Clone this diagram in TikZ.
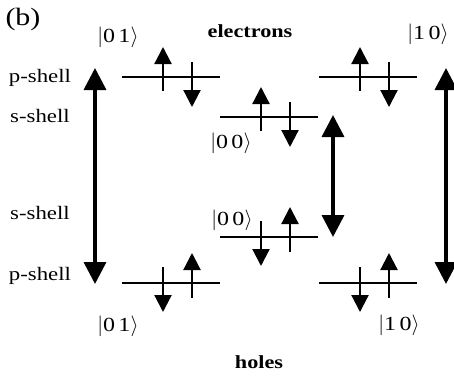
\documentclass[tikz,border=0pt]{standalone}
\usepackage{fontspec}
\setmainfont{Liberation Serif}[FakeStretch=1.2]
\usetikzlibrary{arrows.meta,calc}
\newcommand\myket[1]{$\Big|$#1$\Big\rangle$}
\tikzset{
  lvl/.style={line width=2.2pt},
  spin/.style={line width=2.2pt,-{Triangle[width=17pt,length=17pt]}},
  trans/.style={line width=3.5pt,{Triangle[width=22pt,length=22pt]}-{Triangle[width=22pt,length=22pt]}},
  lbl/.style={inner sep=0pt,font=\fontsize{19}{22}\selectfont},
  ketl/.style={inner sep=0pt,font=\fontsize{20}{23}\selectfont},
  bold/.style={inner sep=0pt,font=\fontsize{18.5}{22}\selectfont\bfseries},
}
\begin{document}
\begin{tikzpicture}[x=1pt,y=-1pt]
\useasboundingbox (0,0) rectangle (454,375);
% level end points
\coordinate (ETLa) at (122,77);  \coordinate (ETLb) at (220,77);
\coordinate (ETMa) at (220,117); \coordinate (ETMb) at (318,117);
\coordinate (ETRa) at (319,77);  \coordinate (ETRb) at (417,77);
\coordinate (HBMa) at (220,237); \coordinate (HBMb) at (318,237);
\coordinate (HBLa) at (122,283); \coordinate (HBLb) at (220,283);
\coordinate (HBRa) at (319,283); \coordinate (HBRb) at (417,283);
\draw[lvl] (ETLa) -- (ETLb);
\draw[lvl] (ETMa) -- (ETMb);
\draw[lvl] (ETRa) -- (ETRb);
\draw[lvl] (HBMa) -- (HBMb);
\draw[lvl] (HBLa) -- (HBLb);
\draw[lvl] (HBRa) -- (HBRb);
% electron spins (up left, down right)
\foreach \a in {ETLa,ETMa,ETRa}{
  \draw[spin] ($(\a)+(41,14)$) -- ++(0,-44);
  \draw[spin] ($(\a)+(70,-15)$) -- ++(0,45);
}
% hole spins (down left, up right)
\foreach \a in {HBLa,HBMa,HBRa}{
  \draw[spin] ($(\a)+(41,-16)$) -- ++(0,45);
  \draw[spin] ($(\a)+(70,15)$) -- ++(0,-45);
}
% transition arrows
\coordinate (TLa) at (95,68);   \coordinate (TLb) at (95,284);
\coordinate (TMa) at (333,115); \coordinate (TMb) at (333,237);
\coordinate (TRa) at (446,68);  \coordinate (TRb) at (446,284);
\draw[trans] (TLa) -- (TLb);
\draw[trans] (TMa) -- (TMb);
\draw[trans] (TRa) -- (TRb);
% labels
\node[inner sep=0pt,font=\fontsize{25}{28}\selectfont] (b) at (23,19) {(b)};
\node[ketl] (k1) at (118,37) {\myket{0\,1}};
\node[bold] (el) at (250,31) {electrons};
\node[ketl] (k2) at (428,34) {\myket{1\,0}};
\node[lbl] (p1) at (40,78) {p-shell};
\node[lbl] (s1) at (40,116) {s-shell};
\node[lbl] (s2) at (40,213) {s-shell};
\node[lbl] (p2) at (40,276) {p-shell};
\node[ketl] (k3) at (231,143) {\myket{0\,0}};
\node[ketl] (k4) at (232,220) {\myket{0\,0}};
\node[ketl] (k5) at (118,326) {\myket{0\,1}};
\node[ketl] (k6) at (399,325) {\myket{1\,0}};
\node[bold] (ho) at (259,362) {holes};
\end{tikzpicture}
\end{document}
